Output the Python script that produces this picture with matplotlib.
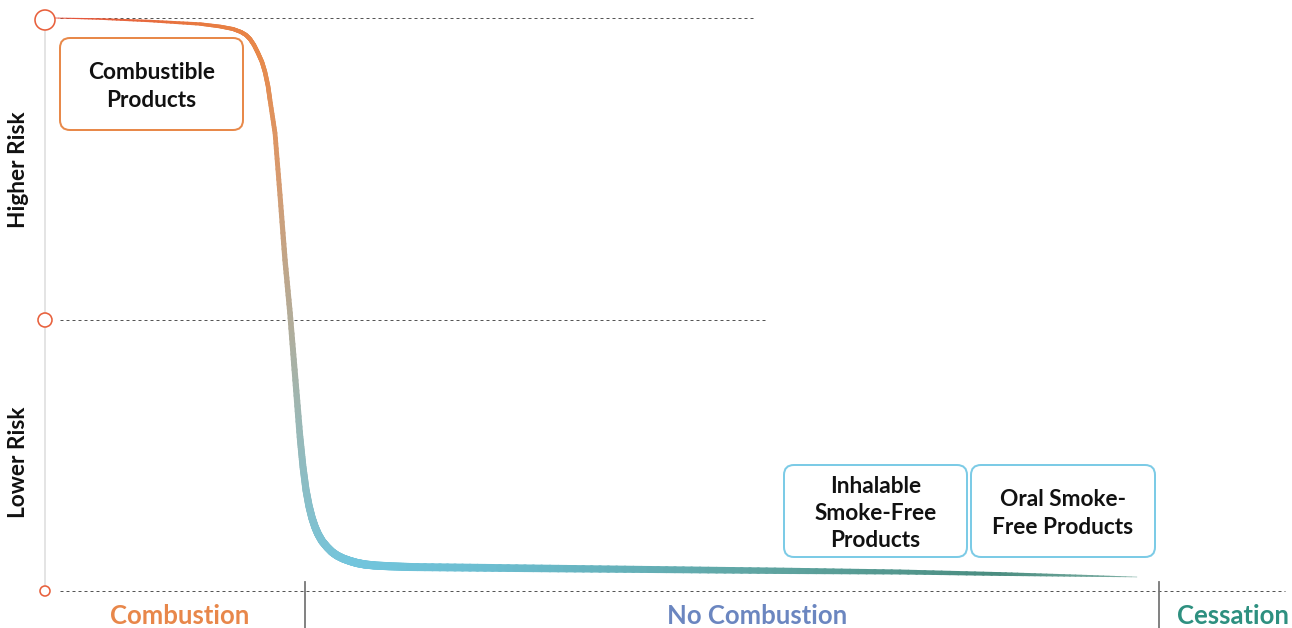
import numpy as np
import matplotlib.pyplot as plt
from matplotlib.collections import LineCollection
from matplotlib.patches import FancyBboxPatch, Circle
from matplotlib.colors import LinearSegmentedColormap

plt.rcParams['font.family'] = ['Lato', 'DejaVu Sans']

# risk curve (x across the chart, y down from the top)
curve_x = [55, 100, 150, 200, 220, 233, 241, 246, 250, 254, 258, 262, 265, 268,
           270, 275, 280, 285, 290, 295, 300, 303, 306, 309, 312, 315, 318, 322,
           327, 332, 337, 343, 350, 357, 365, 375, 390, 410, 500, 600, 700, 800,
           900, 1000, 1070, 1137]
curve_y = [18, 19, 21, 24, 26.5, 29, 32, 35, 39, 45, 53, 62, 72, 86,
           100, 133, 195, 260, 313, 375, 437, 467, 490, 506, 518, 527, 534, 541,
           547, 552, 555.5, 558.5, 561, 563, 564.5, 565.5, 566.3, 567, 568, 569, 570, 571,
           572, 574, 575.5, 577]

# risk levels on the left axis
level_y = [20, 320, 591]
level_r = [10, 7, 5]
grid_end = [755, 765, 1285]
risk_labels = ['Higher Risk', 'Lower Risk']
risk_label_y = [170, 462]

# zones along the bottom
zone_labels = ['Combustion', 'No Combustion', 'Cessation']
zone_centers = [180, 757, 1233]
zone_colors = ['#e8874a', '#6b86c0', '#2e9080']
zone_dividers = [305, 1159]

# product boxes
box_labels = ['Combustible\nProducts', 'Inhalable\nSmoke-Free\nProducts', 'Oral Smoke-\nFree Products']
box_x0 = [60, 784, 971]
box_x1 = [243, 967, 1155]
box_y0 = [38, 465, 465]
box_y1 = [130, 557, 557]
box_colors = ['#e8894a', '#7ccbe6', '#7ccbe6']

fig = plt.figure(figsize=(12.92, 6.28), dpi=100)
ax = fig.add_axes([0, 0, 1, 1])
ax.set_xlim(0, 1292)
ax.set_ylim(628, 0)
ax.axis('off')

px = 0.72  # pixels -> points

# left axis line
ax.plot([45, 45], [30, 586], color='#dcdcdc', lw=1.5 * px, zorder=1)

# dashed guide lines
for y, xe in zip(level_y, grid_end):
    yy = y - 2 if y < 30 else y
    ax.plot([60, xe], [yy, yy], color='#555555', lw=1.0 * px, dashes=(3, 3), zorder=1)

# level markers
for y, r in zip(level_y, level_r):
    ax.add_patch(Circle((45, y), r, facecolor='white', edgecolor='#e8603c',
                        lw=1.6 * px, zorder=4))

# zone dividers
for x in zone_dividers:
    ax.plot([x, x], [582, 628], color='#777777', lw=1.8 * px, zorder=2)

# gradient curve with varying width (each read segment split finely for the gradient)
cx = np.array(curve_x, float)
cy = np.array(curve_y, float)
s = np.concatenate([[0], np.cumsum(np.hypot(np.diff(cx), np.diff(cy)))])
f = s / s[-1]
t = np.linspace(0, 1, 13)
fx = np.concatenate([cx[i] + (cx[i + 1] - cx[i]) * t[:-1] for i in range(len(cx) - 1)] + [cx[-1:]])
fy = np.concatenate([cy[i] + (cy[i + 1] - cy[i]) * t[:-1] for i in range(len(cy) - 1)] + [cy[-1:]])
ff = np.concatenate([f[i] + (f[i + 1] - f[i]) * t[:-1] for i in range(len(f) - 1)] + [f[-1:]])
fm = (ff[:-1] + ff[1:]) / 2
w_stops = [0, 0.09, 0.13, 0.31, 0.42, 0.49, 0.58, 0.77, 0.91, 0.97, 1.0]
w_vals = [0.8, 3.2, 4.3, 5.5, 7, 8.2, 7.8, 6.3, 3.8, 1.8, 0.5]
cmap = LinearSegmentedColormap.from_list('risk', [
    (0, '#e5503a'), (0.09, '#e8783f'), (0.14, '#e8894a'), (0.22, '#d89a6e'),
    (0.31, '#b5ab96'), (0.38, '#9cb7b4'), (0.44, '#86bfca'), (0.49, '#72c5dd'),
    (0.58, '#6cbdd0'), (0.77, '#5ea39f'), (0.91, '#4a8d80'), (1.0, '#7fb0a5')])
pts = np.column_stack([fx, fy])
segs = np.stack([pts[:-1], pts[1:]], axis=1)
lc = LineCollection(segs, colors=cmap(fm), linewidths=np.interp(fm, w_stops, w_vals) * px,
                    capstyle='round', joinstyle='round', zorder=3)
ax.add_collection(lc)

# product boxes
for lab, x0, x1, y0, y1, c in zip(box_labels, box_x0, box_x1, box_y0, box_y1, box_colors):
    ax.add_patch(FancyBboxPatch((x0, y0), x1 - x0, y1 - y0,
                                boxstyle='round,pad=0,rounding_size=10',
                                facecolor='white', edgecolor=c, lw=2 * px, zorder=5))
    ax.text((x0 + x1) / 2, (y0 + y1) / 2 + 2.5, lab, ha='center', va='center',
            fontsize=16.3, fontweight='bold', color='#111111', linespacing=1.36, zorder=6)

# risk labels
for lab, y in zip(risk_labels, risk_label_y):
    ax.text(19, y, lab, rotation=90, ha='center', va='center', fontsize=16.3,
            fontweight='bold', color='#111111')

# zone labels
for lab, x, c in zip(zone_labels, zone_centers, zone_colors):
    ax.text(x, 624, lab, ha='center', va='baseline', fontsize=18.5,
            fontweight='bold', color=c)

fig.savefig('out.png', dpi=100)
